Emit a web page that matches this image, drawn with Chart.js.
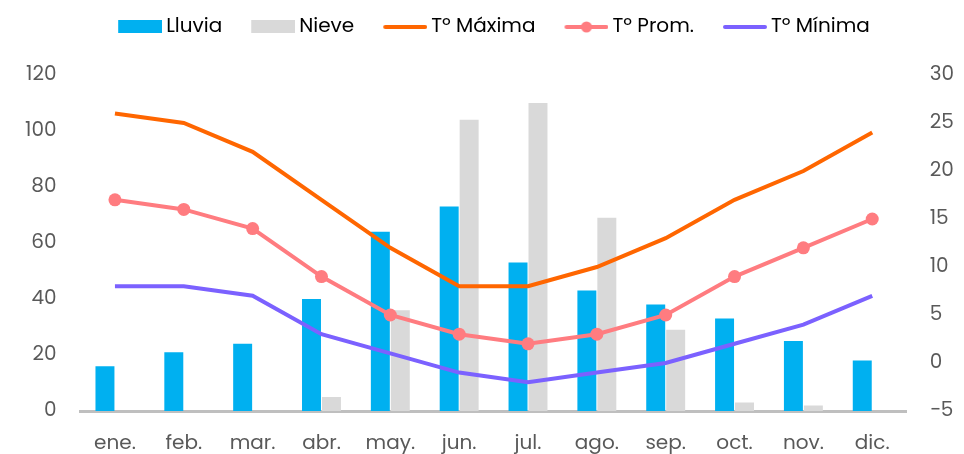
<!DOCTYPE html>
<html>
<head>
<meta charset="utf-8">
<script src="https://cdn.jsdelivr.net/npm/chart.js@4"></script>
<style>
  html, body { margin: 0; padding: 0; background: #fff; }
  #wrap { width: 964px; height: 454px; }
</style>
</head>
<body>
<div id="wrap"><canvas id="climaChart"></canvas></div>
<script>
// Datos climáticos mensuales
const months = ['ene.', 'feb.', 'mar.', 'abr.', 'may.', 'jun.', 'jul.', 'ago.', 'sep.', 'oct.', 'nov.', 'dic.'];
const lluvia = [16, 21, 24, 40, 64, 73, 53, 43, 38, 33, 25, 18];   // mm
const nieve = [0, 0, 0, 5, 36, 104, 110, 69, 29, 3, 2, 0];          // cm
const tMax = [26, 25, 22, 17, 12, 8, 8, 10, 13, 17, 20, 24];        // °C
const tProm = [17, 16, 14, 9, 5, 3, 2, 3, 5, 9, 12, 15];            // °C
const tMin = [8, 8, 7, 3, 1, -1, -2, -1, 0, 2, 4, 7];               // °C

const colors = {
    lluvia: '#00B0F0',
    nieve: '#D9D9D9',
    tMax: '#FF6600',
    tProm: '#FF7C80',
    tMin: '#7B61FF'
};

const FONT = 'Poppins, "Open Sans", "Noto Sans", sans-serif';

// legend markers: 60px wide canvas, visible mark in the right part (x 16..60)
function legendBox(color) {
    const c = document.createElement('canvas');
    c.width = 60; c.height = 14;
    const g = c.getContext('2d');
    g.fillStyle = color;
    g.fillRect(16, 0, 44, 13);
    return c;
}
function legendLine(color, withDot) {
    const c = document.createElement('canvas');
    c.width = 60; c.height = 14;
    const g = c.getContext('2d');
    g.strokeStyle = color;
    g.lineWidth = 4;
    g.lineCap = 'round';
    g.beginPath();
    g.moveTo(18, 7); g.lineTo(58, 7);
    g.stroke();
    if (withDot) {
        g.fillStyle = color;
        g.beginPath();
        g.arc(38, 7, 5.5, 0, Math.PI * 2);
        g.fill();
    }
    return c;
}
const markers = [
    legendBox(colors.lluvia),
    legendBox(colors.nieve),
    legendLine(colors.tMax, false),
    legendLine(colors.tProm, true),
    legendLine(colors.tMin, false)
];

// extra room between legend and plot
const legendSpacer = {
    id: 'legendSpacer',
    beforeInit(chart) {
        const fit = chart.legend.fit;
        chart.legend.fit = function () {
            fit.call(this);
            this.height += 28;
        };
    }
};

const ctx = document.getElementById('climaChart').getContext('2d');

new Chart(ctx, {
    type: 'bar',
    data: {
        labels: months,
        datasets: [
            {
                label: 'Lluvia',
                data: lluvia,
                backgroundColor: colors.lluvia,
                yAxisID: 'y',
                order: 2,
                barPercentage: 0.95,
                categoryPercentage: 0.58
            },
            {
                label: 'Nieve',
                data: nieve,
                backgroundColor: colors.nieve,
                yAxisID: 'y',
                order: 2,
                barPercentage: 0.95,
                categoryPercentage: 0.58
            },
            {
                type: 'line',
                label: 'T\u00ba M\u00e1xima',
                data: tMax,
                borderColor: colors.tMax,
                backgroundColor: colors.tMax,
                borderWidth: 4,
                pointRadius: 0,
                tension: 0,
                yAxisID: 'y1',
                order: 1
            },
            {
                type: 'line',
                label: 'T\u00ba Prom.',
                data: tProm,
                borderColor: colors.tProm,
                backgroundColor: colors.tProm,
                borderWidth: 4,
                pointRadius: 6.5,
                pointHoverRadius: 6.5,
                pointBorderWidth: 0,
                tension: 0,
                yAxisID: 'y1',
                order: 0
            },
            {
                type: 'line',
                label: 'T\u00ba M\u00ednima',
                data: tMin,
                borderColor: colors.tMin,
                backgroundColor: colors.tMin,
                borderWidth: 4,
                pointRadius: 0,
                tension: 0,
                yAxisID: 'y1',
                order: 1
            }
        ]
    },
    plugins: [legendSpacer],
    options: {
        responsive: true,
        maintainAspectRatio: false,
        animation: false,
        layout: {
            padding: { top: -2, left: 1, right: -13, bottom: -23 }
        },
        plugins: {
            legend: {
                display: true,
                position: 'top',
                labels: {
                    usePointStyle: true,
                    pointStyleWidth: 48,
                    boxHeight: 14,
                    padding: 19,
                    color: '#262626',
                    font: { family: FONT, size: 20 },
                    generateLabels: function (chart) {
                        return chart.data.datasets.map(function (ds, i) {
                            return {
                                text: ds.label,
                                pointStyle: markers[i],
                                fillStyle: ds.backgroundColor,
                                strokeStyle: ds.borderColor,
                                lineWidth: 0,
                                hidden: false,
                                datasetIndex: i
                            };
                        });
                    }
                }
            },
            tooltip: { enabled: false }
        },
        scales: {
            x: {
                grid: { display: false, drawTicks: false },
                border: { display: true, color: '#BFBFBF', width: 3 },
                ticks: {
                    color: '#595959',
                    padding: 21,
                    font: { family: FONT, size: 20 }
                }
            },
            y: {
                position: 'left',
                min: 0,
                max: 120,
                grid: { display: false, drawTicks: false },
                border: { display: false },
                ticks: {
                    stepSize: 20,
                    color: '#595959',
                    padding: 24,
                    font: { family: FONT, size: 20 }
                }
            },
            y1: {
                position: 'right',
                min: -5,
                max: 30,
                grid: { display: false, drawTicks: false },
                border: { display: false },
                ticks: {
                    stepSize: 5,
                    color: '#595959',
                    padding: 23,
                    font: { family: FONT, size: 20 },
                    callback: function (v) { return v < 0 ? '\u2212' + Math.abs(v) : v; }
                }
            }
        }
    }
});
</script>
</body>
</html>
